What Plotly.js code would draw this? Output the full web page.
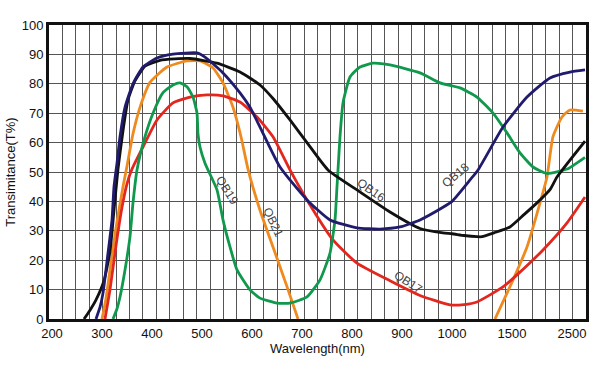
<!DOCTYPE html>
<html>
<head>
<meta charset="utf-8">
<script src="https://cdn.plot.ly/plotly-3.0.1.min.js"></script>
<style>html,body{margin:0;padding:0;background:#fff}#chart{width:600px;height:365px}</style>
</head>
<body>
<div id="chart"></div>
<script>
// Wavelength tick labels (nm)
const tickWavelengths = [200, 300, 400, 500, 600, 700, 800, 900, 1000, 1500, 2500];

// QB16 (black)
const qb16_wl = [264, 276, 288, 304, 316, 324, 332, 342, 352, 366, 386, 416, 476, 530, 576, 616, 642, 676, 710, 752, 810, 876, 936, 982, 1000, 1100, 1208, 1250, 1350, 1483, 1700, 1917, 2133, 2250, 2717];
const qb16_t  = [0, 3, 6.5, 13, 23, 37, 51, 64, 74.5, 81, 86, 88, 88.6, 87, 84, 79.6, 75, 67.7, 60, 50.7, 43.9, 36.4, 30.8, 29.3, 29, 28.4, 28, 28, 29.3, 31.3, 35.5, 39.5, 44, 48.3, 60.5];

// QB18 (navy)
const qb18_wl = [288, 296, 302, 312, 320, 324, 330, 336, 346, 362, 382, 410, 442, 490, 506, 542, 576, 596, 616, 656, 710, 756, 810, 856, 896, 936, 982, 1000, 1150, 1217, 1425, 1750, 2133, 2467, 2717];
const qb18_t  = [0, 4, 8.8, 22.4, 33.7, 45, 53, 62, 72, 80, 85.7, 88.8, 90.1, 90.5, 89.1, 83.7, 76.9, 72, 65.3, 51.7, 40.5, 33.7, 31, 30.6, 31.3, 33.7, 38, 40, 47.3, 50.7, 65.3, 75.5, 82, 84, 84.7];

// QB21 (orange), two pass bands
const qb21_wl = [300, 308, 316, 328, 342, 350, 362, 376, 396, 430, 470, 496, 522, 542, 562, 578, 592, 616, 642, 670, 692, null, 1358, 1517, 1750, 1967, 2083, 2183, 2333, 2467, 2683];
const qb21_t  = [0, 7, 16.7, 31, 45, 52, 63, 72, 80.5, 85.7, 87.8, 87.8, 85.4, 80.3, 72, 62, 51, 37, 24.5, 11, 0, null, 0, 13.3, 24.5, 39.5, 48.3, 62, 68.7, 71.1, 70.7];

// QB17 (red)
const qb17_wl = [306, 316, 328, 340, 350, 360, 382, 410, 442, 476, 510, 542, 576, 610, 642, 676, 710, 762, 810, 876, 936, 996, 1100, 1208, 1425, 1583, 2017, 2417, 2717];
const qb17_t  = [0, 10, 25, 38, 46, 51, 58.5, 67.7, 73.5, 75.5, 76.2, 75.9, 73.8, 68.7, 62, 50.7, 40.5, 26.9, 19, 13, 8, 4.8, 4.9, 5.8, 10.9, 15, 23.5, 32.7, 41.5];

// QB19 (green)
const qb19_wl = [322, 330, 336, 346, 356, 362, 370, 386, 402, 422, 442, 456, 470, 482, 490, 492, 496, 506, 530, 542, 556, 570, 596, 616, 650, 676, 710, 736, 756, 766, 770, 772, 776, 782, 796, 816, 842, 876, 936, 976, 1067, 1208, 1342, 1458, 1633, 1850, 2083, 2417, 2717];
const qb19_t  = [0, 3.5, 7.5, 16.7, 28, 39.5, 50.7, 62, 70, 77, 79.6, 80.3, 79, 75.5, 70, 63, 58.5, 53, 43.9, 33.7, 24.5, 16.7, 9.9, 7.1, 5.4, 5.4, 7.5, 13.3, 22.4, 33.7, 45, 50.7, 62, 73.5, 82.3, 85.7, 87, 86.4, 83.7, 80.3, 78.6, 75.5, 70, 63.3, 56.5, 51.7, 49.5, 51, 55];

// Curve labels
const labelText  = ['QB19', 'QB21', 'QB16', 'QB18', 'QB17'];
const labelWl    = [550, 642, 838, 1030, 912];
const labelT     = [43.9, 33, 44, 49, 12.6];
const labelAngle = [58, 65, 35, -40, 33];

// Broken (piecewise-linear) wavelength scale of the original chart
function pos(w) {
  if (w === null) return null;
  if (w <= 1000) return (w - 200) / 100;
  if (w <= 1500) return 8 + (w - 1000) / 500 * 1.2;
  return 9.2 + (w - 1500) / 1000 * 1.2;
}

const series = [
  {wl: qb21_wl, t: qb21_t, color: '#ef8a1f', name: 'QB21'},
  {wl: qb17_wl, t: qb17_t, color: '#e3261e', name: 'QB17'},
  {wl: qb19_wl, t: qb19_t, color: '#10984c', name: 'QB19'},
  {wl: qb16_wl, t: qb16_t, color: '#111111', name: 'QB16'},
  {wl: qb18_wl, t: qb18_t, color: '#211b6e', name: 'QB18'}
];

const traces = series.map(s => ({
  x: s.wl.map(pos), y: s.t, name: s.name,
  type: 'scatter', mode: 'lines',
  line: {color: s.color, width: 2.8, shape: 'spline', smoothing: 0.5},
  connectgaps: false, hoverinfo: 'skip'
}));

const xMin = -0.06, xMax = 10.68;
const layout = {
  width: 600, height: 365,
  margin: {l: 49, r: 14, t: 25, b: 46},
  paper_bgcolor: '#ffffff', plot_bgcolor: '#ffffff',
  showlegend: false,
  font: {family: 'Liberation Sans, Arial, sans-serif', color: '#111'},
  xaxis: {
    range: [xMin, xMax], fixedrange: true,
    tickmode: 'array', tickvals: tickWavelengths.map(pos), ticktext: tickWavelengths.map(String),
    ticks: '', showgrid: false, zeroline: false,
    tickfont: {size: 13, color: '#111'},
    showline: true, linecolor: '#111', linewidth: 3, mirror: true,
    minor: {tickmode: 'linear', tick0: xMin, dtick: (xMax - xMin) / 40, showgrid: true, gridcolor: '#555', gridwidth: 1, ticklen: 0},
    title: {text: 'Wavelength(nm)', font: {size: 13, color: '#111'}, standoff: 2}
  },
  yaxis: {
    range: [0, 100], fixedrange: true,
    tickmode: 'linear', tick0: 0, dtick: 10,
    ticks: '', showgrid: true, gridcolor: '#555', gridwidth: 1, zeroline: false,
    tickfont: {size: 13, color: '#111'},
    showline: true, linecolor: '#111', linewidth: 3, mirror: true,
    title: {text: 'Transimitance(T%)', font: {size: 13, color: '#111'}, standoff: 4}
  },
  annotations: labelText.map((txt, i) => ({
    x: pos(labelWl[i]), y: labelT[i], xref: 'x', yref: 'y',
    text: txt, showarrow: false, textangle: labelAngle[i],
    font: {size: 12, color: '#444'}
  }))
};

Plotly.newPlot('chart', traces, layout, {staticPlot: true, displayModeBar: false});
</script>
</body>
</html>
